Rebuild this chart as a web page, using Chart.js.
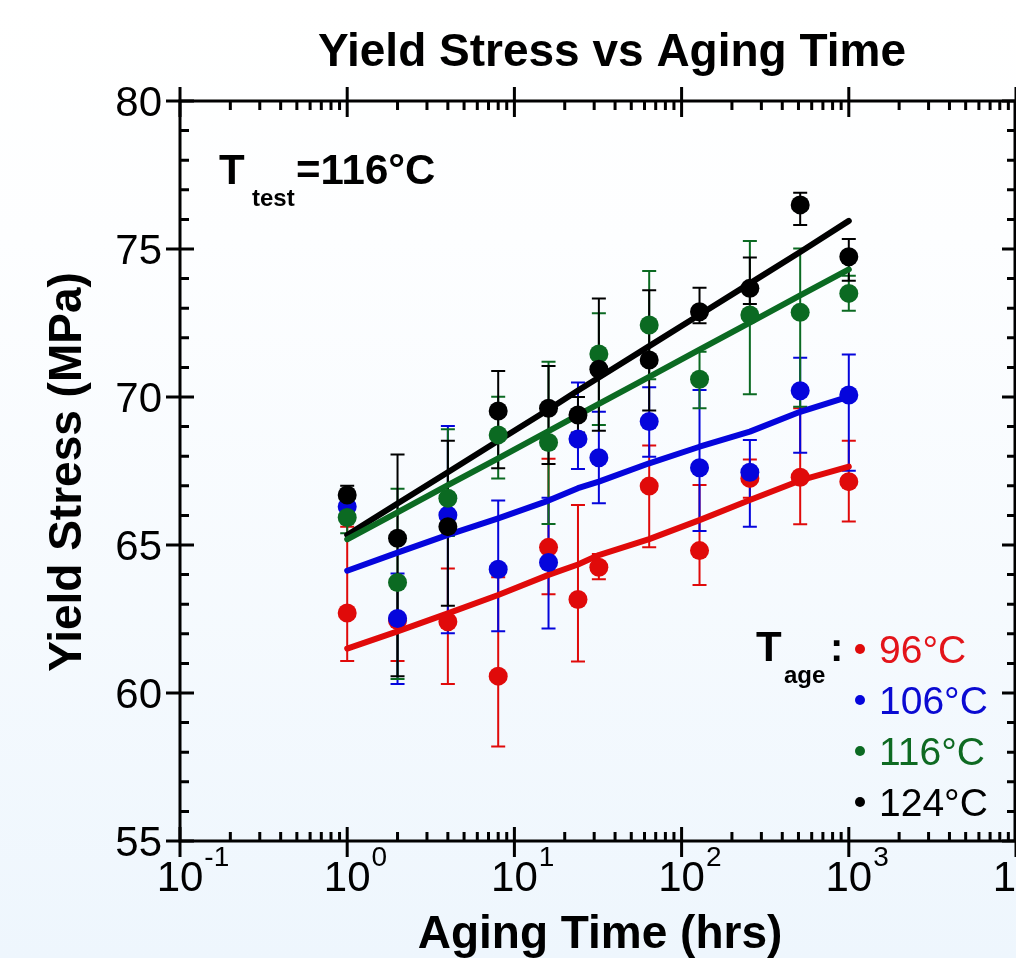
<!DOCTYPE html>
<html>
<head>
<meta charset="utf-8">
<script src="https://cdn.jsdelivr.net/npm/chart.js@4.4.1/dist/chart.umd.min.js"></script>
<style>
html,body{margin:0;padding:0;width:1016px;height:958px;overflow:hidden;
background:linear-gradient(to bottom,#ffffff 0%,#fdfeff 25%,#eef6fd 100%);}
canvas{display:block;}
</style>
</head>
<body>
<canvas id="c" width="1016" height="958"></canvas>
<script>
// ---- data ----
const hours = [1, 2, 4, 8, 16, 24, 32, 64, 128, 256, 512, 1000];

const t96  = [62.70, 62.45, 62.41, 60.57, 64.92, 63.16, 64.25, 66.99, 64.81, 67.25, 67.29, 67.14];
const t96Lo = [61.08, 61.08, 60.30, 58.19, 63.34, 61.06, 63.84, 64.92, 63.65, 66.60, 65.70, 65.79];
const t96Hi = [65.62, 63.80, 64.21, 63.91, 67.91, 66.35, 64.70, 68.36, 67.03, 67.89, 69.62, 68.52];
const t96Fit = [61.50, 62.08, 62.69, 63.31, 63.99, 64.34, 64.66, 65.20, 65.84, 66.52, 67.18, 67.65];

const t106  = [66.29, 62.52, 66.01, 64.18, 64.41, 68.58, 67.95, 69.17, 67.61, 67.46, 70.21, 70.07];
const t106Lo = [66.00, 60.30, 62.02, 62.09, 62.18, 67.57, 66.41, 67.98, 65.47, 65.62, 68.12, 67.51];
const t106Hi = [66.60, 64.04, 69.02, 66.50, 66.60, 70.49, 69.50, 70.33, 70.24, 68.55, 71.33, 71.44];
const t106Fit = [64.13, 64.74, 65.34, 65.90, 66.50, 66.92, 67.14, 67.76, 68.32, 68.83, 69.50, 70.01];

const t116  = [65.93, 63.73, 66.58, 68.72, 68.46, null, 71.45, 72.43, 70.60, 72.77, 72.86, 73.50];
const t116Lo = [65.40, 60.47, 65.30, 67.25, 65.71, null, 69.05, 70.60, 69.62, 70.09, 69.67, 72.91];
const t116Hi = [66.40, 66.90, 68.91, 70.01, 71.19, null, 72.83, 74.26, 71.53, 75.27, 75.02, 74.10];
const t116Fit = [65.19, 66.10, 67.02, 67.93, 68.85, 69.39, 69.77, 70.68, 71.60, 72.51, 73.43, 74.31];

const t124  = [66.69, 65.23, 65.62, 69.53, 69.62, 69.39, 70.94, 71.25, 72.88, 73.67, 76.49, 74.74];
const t124Lo = [66.40, 60.57, 62.95, 67.59, 67.74, 68.80, 68.86, 69.54, 72.49, 73.14, 75.81, 73.93];
const t124Hi = [67.00, 68.06, 68.52, 70.88, 71.05, 70.00, 73.33, 73.61, 73.69, 74.71, 76.90, 75.34];
const t124Fit = [65.34, 66.40, 67.46, 68.52, 69.58, 70.22, 70.66, 71.72, 72.78, 73.84, 74.90, 75.95];

const seriesLabels = ['96°C', '106°C', '116°C', '124°C'];
const yTickValues = [55, 60, 65, 70, 75, 80];
const xTickExponents = [-1, 0, 1, 2, 3, 4];

// ---- styling ----
const colors = ['#e00a0a', '#0505dc', '#0b6a22', '#000000'];
const textColors = ['#e3141a', '#0a0ad2', '#0e6a22', '#000000'];
const FONT = "'Liberation Sans', Arial, Helvetica, sans-serif";

const series = [
  {mean: t96, lo: t96Lo, hi: t96Hi, fit: t96Fit},
  {mean: t106, lo: t106Lo, hi: t106Hi, fit: t106Fit},
  {mean: t116, lo: t116Lo, hi: t116Hi, fit: t116Fit},
  {mean: t124, lo: t124Lo, hi: t124Hi, fit: t124Fit}
];

const toPts = arr => hours.map((h, i) => ({x: h, y: arr[i]})).filter(p => p.y !== null);

const datasets = [];
series.forEach((s, k) => {
  datasets.push({
    label: seriesLabels[k] + ' fit', data: toPts(s.fit), showLine: true,
    borderColor: colors[k], borderWidth: 6, pointRadius: 0, fill: false,
    order: 20 + k, borderCapStyle: 'round', borderJoinStyle: 'round'
  });
});
series.forEach((s, k) => {
  datasets.push({
    label: seriesLabels[k], data: toPts(s.mean), showLine: false,
    backgroundColor: colors[k], borderColor: colors[k], borderWidth: 0,
    pointRadius: 9.5, pointHoverRadius: 9.5, order: 10 - k
  });
});

const errorBars = {
  id: 'errorBars',
  beforeDatasetsDraw(chart) {
    const ctx = chart.ctx, xs = chart.scales.x, ys = chart.scales.y;
    ctx.save();
    series.forEach((s, k) => {
      ctx.strokeStyle = colors[k];
      ctx.lineWidth = 2;
      hours.forEach((h, i) => {
        if (s.mean[i] === null) return;
        const x = xs.getPixelForValue(h);
        const y1 = ys.getPixelForValue(s.lo[i]);
        const y2 = ys.getPixelForValue(s.hi[i]);
        ctx.beginPath();
        ctx.moveTo(x, y1); ctx.lineTo(x, y2);
        ctx.moveTo(x - 7, y1); ctx.lineTo(x + 7, y1);
        ctx.moveTo(x - 7, y2); ctx.lineTo(x + 7, y2);
        ctx.stroke();
      });
    });
    ctx.restore();
  }
};

const frame = {
  id: 'frame',
  afterDraw(chart) {
    const ctx = chart.ctx, xs = chart.scales.x, ys = chart.scales.y;
    const a = chart.chartArea;
    ctx.save();
    ctx.strokeStyle = '#000';
    ctx.lineWidth = 3;
    ctx.lineCap = 'butt';
    // frame
    ctx.beginPath();
    ctx.moveTo(a.left, a.top); ctx.lineTo(a.right, a.top);
    ctx.moveTo(a.left, a.bottom); ctx.lineTo(a.right, a.bottom);
    ctx.moveTo(a.left, a.top - 1.5); ctx.lineTo(a.left, a.bottom + 1.5);
    ctx.moveTo(a.right - 1, a.top); ctx.lineTo(a.right - 1, a.bottom);
    ctx.stroke();
    // x ticks
    ctx.beginPath();
    xTickExponents.forEach((e, idx) => {
      const base = Math.pow(10, e);
      const x = xs.getPixelForValue(base);
      ctx.moveTo(x, a.bottom + 16); ctx.lineTo(x, a.bottom - 14);
      ctx.moveTo(x, a.top - 14); ctx.lineTo(x, a.top + 16);
      if (idx < xTickExponents.length - 1) {
        for (let m = 2; m <= 9; m++) {
          const xm = xs.getPixelForValue(m * base);
          ctx.moveTo(xm, a.bottom); ctx.lineTo(xm, a.bottom - 9);
          ctx.moveTo(xm, a.top); ctx.lineTo(xm, a.top + 9);
        }
      }
    });
    // y ticks
    for (let v = 55; v <= 80; v++) {
      const y = ys.getPixelForValue(v);
      if (v % 5 === 0) {
        ctx.moveTo(a.left - 14, y); ctx.lineTo(a.left + 14, y);
        ctx.moveTo(a.right - 14, y); ctx.lineTo(a.right, y);
      } else {
        ctx.moveTo(a.left, y); ctx.lineTo(a.left + 9, y);
        ctx.moveTo(a.right - 9, y); ctx.lineTo(a.right, y);
      }
    }
    ctx.stroke();

    // y tick labels
    ctx.fillStyle = '#000';
    ctx.font = '42px ' + FONT;
    ctx.textAlign = 'right';
    ctx.textBaseline = 'alphabetic';
    yTickValues.forEach(v => {
      const y = ys.getPixelForValue(v);
      ctx.fillText(String(v), 162, y + 15);
    });
    // x tick labels 10^n
    xTickExponents.forEach(e => {
      const x = xs.getPixelForValue(Math.pow(10, e));
      ctx.font = '42px ' + FONT;
      ctx.textAlign = 'center';
      ctx.fillText('10', x, 891);
      const w = ctx.measureText('10').width;
      ctx.font = '28px ' + FONT;
      ctx.textAlign = 'left';
      ctx.fillText(String(e), x + w / 2 + 1, 866);
    });

    // title
    ctx.textAlign = 'center';
    ctx.font = 'bold 46px ' + FONT;
    ctx.fillText('Yield Stress vs Aging Time', 612, 66);
    // x axis title
    ctx.fillText('Aging Time (hrs)', 600, 948);
    // y axis title
    ctx.save();
    ctx.translate(81, 472);
    ctx.rotate(-Math.PI / 2);
    ctx.fillText('Yield Stress (MPa)', 0, 0);
    ctx.restore();

    // T_test annotation
    ctx.textAlign = 'left';
    ctx.font = 'bold 42px ' + FONT;
    ctx.fillText('T', 219, 184);
    ctx.font = 'bold 24px ' + FONT;
    ctx.fillText('test', 252, 206);
    ctx.font = 'bold 42px ' + FONT;
    ctx.fillText('=116°C', 296, 184);

    // legend
    ctx.font = 'bold 42px ' + FONT;
    ctx.fillText('T', 756, 661);
    ctx.font = 'bold 24px ' + FONT;
    ctx.fillText('age', 784, 683);
    ctx.font = 'bold 40px ' + FONT;
    ctx.fillText(':', 830, 661);
    seriesLabels.forEach((lab, k) => {
      const cy = 649 + k * 51;
      ctx.fillStyle = colors[k];
      ctx.beginPath();
      ctx.arc(860, cy, 5, 0, Math.PI * 2);
      ctx.fill();
      ctx.fillStyle = textColors[k];
      ctx.font = '39px ' + FONT;
      ctx.fillText(lab, 879, cy + 14);
    });
    ctx.restore();
  }
};

new Chart(document.getElementById('c'), {
  type: 'scatter',
  data: {datasets},
  options: {
    responsive: false,
    animation: false,
    devicePixelRatio: 1,
    layout: {autoPadding: false, padding: {top: 101, right: 0, left: 0, bottom: 0}},
    plugins: {legend: {display: false}, tooltip: {enabled: false}, title: {display: false}},
    scales: {
      x: {
        type: 'logarithmic', min: 0.1, max: 10000,
        grid: {display: false}, border: {display: false},
        ticks: {display: false},
        afterFit(s) { s.height = 117; }
      },
      y: {
        type: 'linear', min: 55, max: 80,
        grid: {display: false}, border: {display: false},
        ticks: {display: false},
        afterFit(s) { s.width = 180; }
      }
    }
  },
  plugins: [errorBars, frame]
});
</script>
</body>
</html>
